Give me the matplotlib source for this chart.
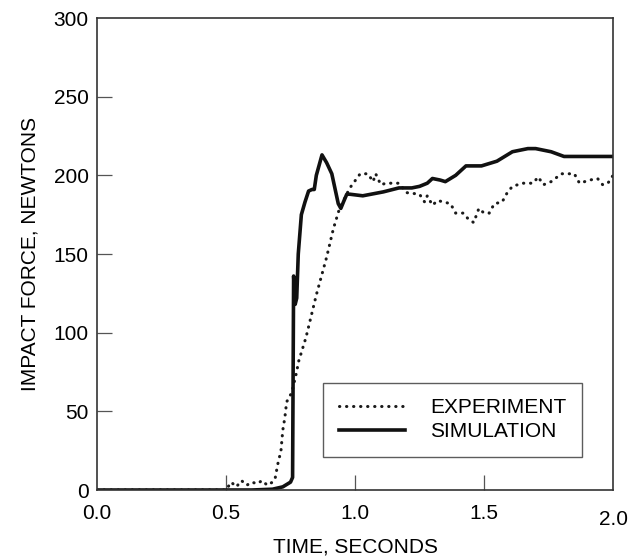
import numpy as np
import matplotlib.pyplot as plt

plt.rcParams['font.family'] = ['Liberation Sans', 'DejaVu Sans']

# experiment (dotted)
exp_t = [0.0, 0.50, 0.52, 0.54, 0.56, 0.58, 0.60, 0.62, 0.64, 0.66, 0.68, 0.69,
         0.70, 0.713, 0.72, 0.728, 0.735, 0.755, 0.775, 0.78, 0.81, 0.85, 0.89,
         0.916, 0.94, 0.98, 1.02, 1.05, 1.07, 1.08, 1.10, 1.12, 1.17, 1.20,
         1.25, 1.27, 1.28, 1.30, 1.32, 1.37, 1.39, 1.42, 1.44, 1.46, 1.48,
         1.50, 1.52, 1.54, 1.57, 1.59, 1.61, 1.65, 1.69, 1.71, 1.73, 1.76,
         1.80, 1.85, 1.87, 1.91, 1.94, 1.96, 1.98, 2.0]
exp_f = [0, 0, 5, 2, 6, 3, 5, 4, 6, 3, 5, 7,
         16, 25, 38, 46, 56, 62, 76, 81, 97, 124, 148,
         166, 179, 192, 201, 201, 196, 201, 194, 195, 195, 189,
         188, 183, 187, 181, 184, 182, 176, 176, 172, 170, 179,
         176, 176, 182, 183, 189, 193, 195, 195, 199, 194, 196,
         201, 201, 195, 197, 198, 194, 195, 200]

# simulation (solid)
sim_t = [0.0, 0.60, 0.68, 0.72, 0.75, 0.758, 0.762, 0.768, 0.774, 0.78, 0.792,
         0.806, 0.82, 0.833, 0.842, 0.85, 0.872, 0.89, 0.91, 0.935, 0.945,
         0.955, 0.968, 0.98, 1.03, 1.11, 1.17, 1.22, 1.25, 1.28, 1.30, 1.33,
         1.35, 1.39, 1.43, 1.49, 1.55, 1.61, 1.67, 1.70, 1.76, 1.81, 2.0]
sim_f = [0, 0, 0.5, 2, 5, 8, 136, 118, 122, 150, 175,
         183, 190, 191, 191, 200, 213, 208, 201, 182, 179,
         183, 188, 188, 187, 189.5, 192, 192, 193, 195, 198, 197,
         196, 200, 206, 206, 209, 215, 217, 217, 215, 212, 212]

xticks = [0.0, 0.5, 1.0, 1.5, 2.0]
xtick_labels = ['0.0', '0.5', '1.0', '1.5', '2.0']
yticks = [0, 50, 100, 150, 200, 250, 300]

fig = plt.figure(figsize=(6.32, 5.56), dpi=100)
ax = fig.add_axes([0.1535, 0.1187, 0.8165, 0.8489])

ax.plot(exp_t, exp_f, color='#1a1a1a', lw=2.2, linestyle=(0, (0.1, 2.2)),
        dash_capstyle='round', label='EXPERIMENT')
ax.plot(sim_t, sim_f, color='#111111', lw=2.6, solid_joinstyle='round',
        label='SIMULATION')

ax.set_xlim(0, 2.0)
ax.set_ylim(0, 300)
ax.set_xticks(xticks)
ax.set_xticklabels(xtick_labels)
ax.set_yticks(yticks)

for s in ax.spines.values():
    s.set_color('#333333')
    s.set_linewidth(1.2)

ax.tick_params(axis='both', direction='in', length=11, width=0.9,
               color='#555555', labelsize=15, top=False, right=False)
ax.tick_params(axis='x', pad=10)
ax.tick_params(axis='y', pad=6)
# no tick marks on the box corners
for t in ax.xaxis.get_major_ticks()[::4]:
    t.tick1line.set_visible(False)
for t in [ax.yaxis.get_major_ticks()[0], ax.yaxis.get_major_ticks()[-1]]:
    t.tick1line.set_visible(False)
ax.get_xticklabels()[-1].set_y(-0.014)

ax.set_xlabel('TIME, SECONDS', fontsize=15, labelpad=6)
ax.set_ylabel('IMPACT FORCE, NEWTONS', fontsize=15, labelpad=10)

leg = ax.legend(loc='lower right', bbox_to_anchor=(0.94, 0.07), fontsize=15,
                fancybox=False, frameon=True, handlelength=3.2,
                handletextpad=1.2, borderpad=0.75, labelspacing=0.25,
                borderaxespad=0)
leg.get_frame().set_edgecolor('#333333')
leg.get_frame().set_linewidth(1.0)

fig.savefig('out.png', dpi=100)
